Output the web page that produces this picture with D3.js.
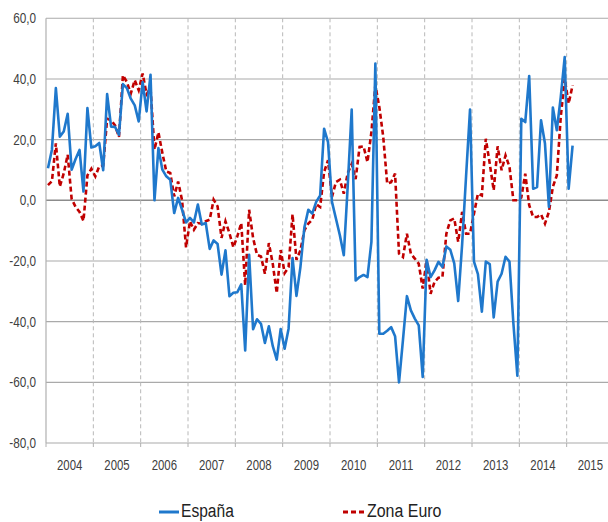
<!DOCTYPE html>
<html>
<head>
<meta charset="utf-8">
<script src="https://cdn.jsdelivr.net/npm/d3@7"></script>
<style>
  body { margin: 0; background: #fff; }
  text { font-family: "Liberation Sans", Arial, sans-serif; fill: #404040; }
</style>
</head>
<body>
<div id="chart"></div>
<script>
// monthly values, Jan 2004 onwards
var years = [2004, 2005, 2006, 2007, 2008, 2009, 2010, 2011, 2012, 2013, 2014, 2015];
var yTicks = [-80, -60, -40, -20, 0, 20, 40, 60];

var spain = [
  10.6, 16.7, 37, 21, 22.7, 28.5, 10.1, 13.6, 16.6, 2.9, 30.4, 17.4,
  17.8, 18.9, 9.9, 35, 24.3, 24.2, 21.6, 38.3, 37, 33.5, 31.3, 26,
  39, 29.3, 41.4, 0, 17.2, 10.1, 7.9, 6.8, -4.2, 0.8, -3.1, -7.3,
  -5.8, -7.3, -1.4, -8, -7.5, -16, -13.2, -14.4, -24.5, -16.5, -31.6, -30.5,
  -30.3, -27.7, -49.5, -18, -42.5, -39.2, -40.7, -47, -41.5, -48.1, -52.5, -42.4,
  -48.9, -42.3, -19, -31.5, -22, -9, -3.1, -4.4, -0.5, 1.6, 23.6, 19.2,
  -0.5, -6, -11.5, -18.1, 4.9, 29.9, -26.4, -25.3, -24.6, -25.3, -13.7, 45.1,
  -44, -44, -43, -41.8, -44.8, -60, -46, -31.6, -36.3, -39, -41.2, -58.2,
  -19.6, -25.3, -23.1, -20.3, -22, -15.2, -16.3, -20.8, -33.2, -14.5, 8, 29.9,
  -20.2, -24.3, -36.7, -20.2, -21, -38.6, -26.8, -24.2, -18.6, -20.2, -40.7, -57.8,
  26.9, 25.8, 41, 3.8, 4.4, 26.4, 18.7, -2.2, 30.6, 23.1, 34, 47.2,
  3.8, 18
];

var euro = [
  5, 6.3, 18.8, 4.5, 8.9, 15, 0.5, -2.2, -3.8, -6.8, 8.2, 10.4,
  7.9, 11.2, 11.5, 26.9, 26.4, 24.7, 20.9, 41.2, 39, 35.2, 39.6, 36.3,
  41.8, 35, 37, 16.7, 22.4, 15.6, 9.5, 9, 1.3, 6.2, 0, -15.5,
  -6.9, -9.7, -7.5, -7.7, -6.9, -6.4, 0.2, -2, -12.4, -6.9, -10.8, -15.5,
  -11.9, -7.5, -28, -3.1, -12.4, -18, -18.5, -24.2, -14.1, -21, -30.6, -16.4,
  -24, -22, -4.6, -19.6, -16.5, -9.9, -7.7, -6.4, -1.3, -2.2, 9.3, 13.2,
  1.1, 6, 6.8, 2.2, 9, 12, 7, 17.6, 17.8, 12.6, 22.5, 37.9,
  30.8, 20.9, 5.5, 6, 8.8, -17.6, -18.7, -11, -17.6, -19.2, -20.9, -29.1,
  -19.8, -30.8, -26.9, -25.5, -25.3, -11, -6.6, -6, -13.7, -3.8, -11, -11,
  -4.4, 2.2, 1.6, 20.3, 12.1, 3.3, 17.8, 9.9, 14.8, 11, 0, 0,
  0.9, 8.8, -1.6, -5.5, -5.5, -4.6, -7.7, -3.8, 4.4, 8.2, 27.5, 40.1,
  31.9, 37.9
];

var width = 608, height = 522;
var plotLeft = 46, plotTop = 18.3, plotBottom = 443;

var svg = d3.select("#chart")
  .append("svg")
    .attr("width", width)
    .attr("height", height);

// x: month index, 12 slots per year
var x = d3.scaleLinear()
  .domain([0, years.length * 12])
  .range([plotLeft, 614]);

var y = d3.scaleLinear()
  .domain([-80, 60])
  .range([plotBottom, plotTop]);

// horizontal grid
svg.append("g")
  .selectAll("line")
  .data(yTicks)
  .enter()
  .append("line")
    .attr("x1", plotLeft)
    .attr("x2", width)
    .attr("y1", d => y(d))
    .attr("y2", d => y(d))
    .attr("stroke", d => d === 0 ? "#8c8c8c" : "#aaaaaa")
    .attr("stroke-width", d => d === 0 ? 1.6 : 1.1);

// dashed year separators
svg.append("g")
  .selectAll("line")
  .data(years.slice(1))
  .enter()
  .append("line")
    .attr("x1", (d, i) => x((i + 1) * 12))
    .attr("x2", (d, i) => x((i + 1) * 12))
    .attr("y1", plotTop)
    .attr("y2", plotBottom)
    .attr("stroke", "#b8b8b8")
    .attr("stroke-width", 1)
    .attr("stroke-dasharray", "4,3");

// left axis line
svg.append("line")
  .attr("x1", plotLeft).attr("x2", plotLeft)
  .attr("y1", plotTop).attr("y2", plotBottom)
  .attr("stroke", "#b0b0b0")
  .attr("stroke-width", 1.2);

// bottom ticks
svg.append("g")
  .selectAll("line")
  .data(d3.range(0, years.length + 1))
  .enter()
  .append("line")
    .attr("x1", d => x(d * 12))
    .attr("x2", d => x(d * 12))
    .attr("y1", plotBottom)
    .attr("y2", plotBottom + 4)
    .attr("stroke", "#b0b0b0");

// y labels (condensed like the original)
svg.append("g")
  .selectAll("text")
  .data(yTicks)
  .enter()
  .append("text")
    .attr("transform", d => "translate(36," + (y(d) + 5) + ") scale(0.84,1)")
    .attr("text-anchor", "end")
    .attr("font-size", "14px")
    .text(d => d3.format(".1f")(d).replace(".", ",").replace("−", "-"));

// year labels
svg.append("g")
  .selectAll("text")
  .data(years)
  .enter()
  .append("text")
    .attr("transform", (d, i) => "translate(" + x(i * 12 + 6) + ",470) scale(0.76,1)")
    .attr("text-anchor", "middle")
    .attr("font-size", "15px")
    .text(d => d);

var line = d3.line()
  .x((d, i) => x(i + 0.5))
  .y(d => y(d));

svg.append("path")
  .datum(euro)
  .attr("fill", "none")
  .attr("stroke", "#c00000")
  .attr("stroke-width", 2.6)
  .attr("stroke-dasharray", "5,3")
  .attr("d", line);

svg.append("path")
  .datum(spain)
  .attr("fill", "none")
  .attr("stroke", "#1f78cc")
  .attr("stroke-width", 2.6)
  .attr("stroke-linejoin", "round")
  .attr("d", line);

// legend
var legend = svg.append("g");
legend.append("line")
  .attr("x1", 159).attr("x2", 179)
  .attr("y1", 512).attr("y2", 512)
  .attr("stroke", "#1f78cc")
  .attr("stroke-width", 3);
legend.append("text")
  .attr("transform", "translate(181,517) scale(0.82,1)")
  .attr("font-size", "19px")
  .style("fill", "#222")
  .text("España");
legend.append("line")
  .attr("x1", 343).attr("x2", 364)
  .attr("y1", 512).attr("y2", 512)
  .attr("stroke", "#c00000")
  .attr("stroke-width", 3)
  .attr("stroke-dasharray", "5,3");
legend.append("text")
  .attr("transform", "translate(367,517) scale(0.84,1)")
  .attr("font-size", "19px")
  .style("fill", "#222")
  .text("Zona Euro");
</script>
</body>
</html>
